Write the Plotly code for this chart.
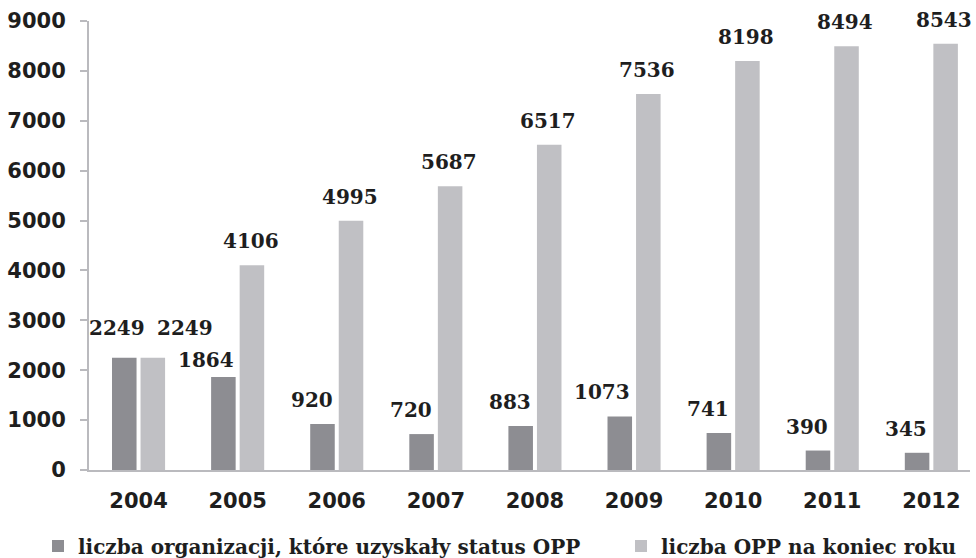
import plotly.graph_objects as go

# ---- data ----
years = ["2004", "2005", "2006", "2007", "2008", "2009", "2010", "2011", "2012"]
new_status = [2249, 1864, 920, 720, 883, 1073, 741, 390, 345]
total_end_year = [2249, 4106, 4995, 5687, 6517, 7536, 8198, 8494, 8543]
series_names = ["liczba organizacji, które uzyskały status OPP", "liczba OPP na koniec roku"]
y_ticks = [0, 1000, 2000, 3000, 4000, 5000, 6000, 7000, 8000, 9000]

# ---- style ----
DARK = "rgb(141,141,146)"
LIGHT = "rgb(192,192,196)"
AXIS = "rgb(186,186,190)"
TXT = "#1e1e1e"
SANS = "DejaVu Sans"
SERIF = "DejaVu Serif"

W, H = 976, 558

fig = go.Figure()
fig.add_trace(go.Bar(x=years, y=new_status, name="<b>" + series_names[0] + "</b>",
                     marker=dict(color=DARK, line=dict(width=0)), hoverinfo="x+y",
                     legend="legend"))
fig.add_trace(go.Bar(x=years, y=total_end_year, name="<b>" + series_names[1] + "</b>",
                     marker=dict(color=LIGHT, line=dict(width=0)), hoverinfo="x+y",
                     legend="legend2"))

# value labels (pixel nudges are styling only); x given as category index
nudge_dark = {"2004": (10, 6), "2005": (0, -7)}
nudge_light = {"2004": (33, 6)}
for i, (yr, v) in enumerate(zip(years, new_status)):
    dx, dy = nudge_dark.get(yr, (0, 0))
    fig.add_annotation(x=i, y=v, xref="x", yref="y", text="<b>%d</b>" % v, showarrow=False,
                       xanchor="right", yanchor="bottom", xshift=-2 + dx, yshift=10 + dy,
                       font=dict(family=SERIF, size=20, color=TXT))
for i, (yr, v) in enumerate(zip(years, total_end_year)):
    dx, dy = nudge_light.get(yr, (0, 0))
    fig.add_annotation(x=i, y=v, xref="x", yref="y", text="<b>%d</b>" % v, showarrow=False,
                       xanchor="center", yanchor="bottom", xshift=13 + dx, yshift=10 + dy,
                       font=dict(family=SERIF, size=20, color=TXT))

legend_font = dict(family=SERIF, size=20, color=TXT)
fig.update_layout(
    width=W, height=H,
    margin=dict(l=89, r=6, t=21, b=88, autoexpand=False),
    paper_bgcolor="white", plot_bgcolor="white",
    barmode="group", bargap=0.424, bargroupgap=0.14,
    showlegend=True,
    legend=dict(orientation="h", xref="container", yref="container",
                x=38 / W, xanchor="left", y=1 - 546 / H, yanchor="middle",
                font=legend_font, bgcolor="rgba(0,0,0,0)"),
    legend2=dict(orientation="h", xref="container", yref="container",
                 x=621 / W, xanchor="left", y=1 - 546 / H, yanchor="middle",
                 font=legend_font, bgcolor="rgba(0,0,0,0)"),
    xaxis=dict(type="category", range=[-0.5, 8.39], showline=True, linecolor=AXIS, linewidth=2,
               ticks="", showgrid=False, zeroline=False, ticklabelstandoff=11,
               tickfont=dict(family=SANS, size=21, color=TXT, weight="bold")),
    yaxis=dict(range=[0, 9000], tickvals=y_ticks, ticktext=[str(t) for t in y_ticks],
               showline=True, linecolor=AXIS, linewidth=2,
               ticks="outside", ticklen=7, tickwidth=2, tickcolor=AXIS,
               showgrid=False, zeroline=False, ticklabelstandoff=10,
               tickfont=dict(family=SANS, size=21, color=TXT, weight="bold")),
)

# remove the page's default body margin so the 976x558 figure fills the window exactly
fig.write_html("out.html", config={"displayModeBar": False},
               post_script="document.body.style.margin='0';document.body.style.overflow='hidden';")
